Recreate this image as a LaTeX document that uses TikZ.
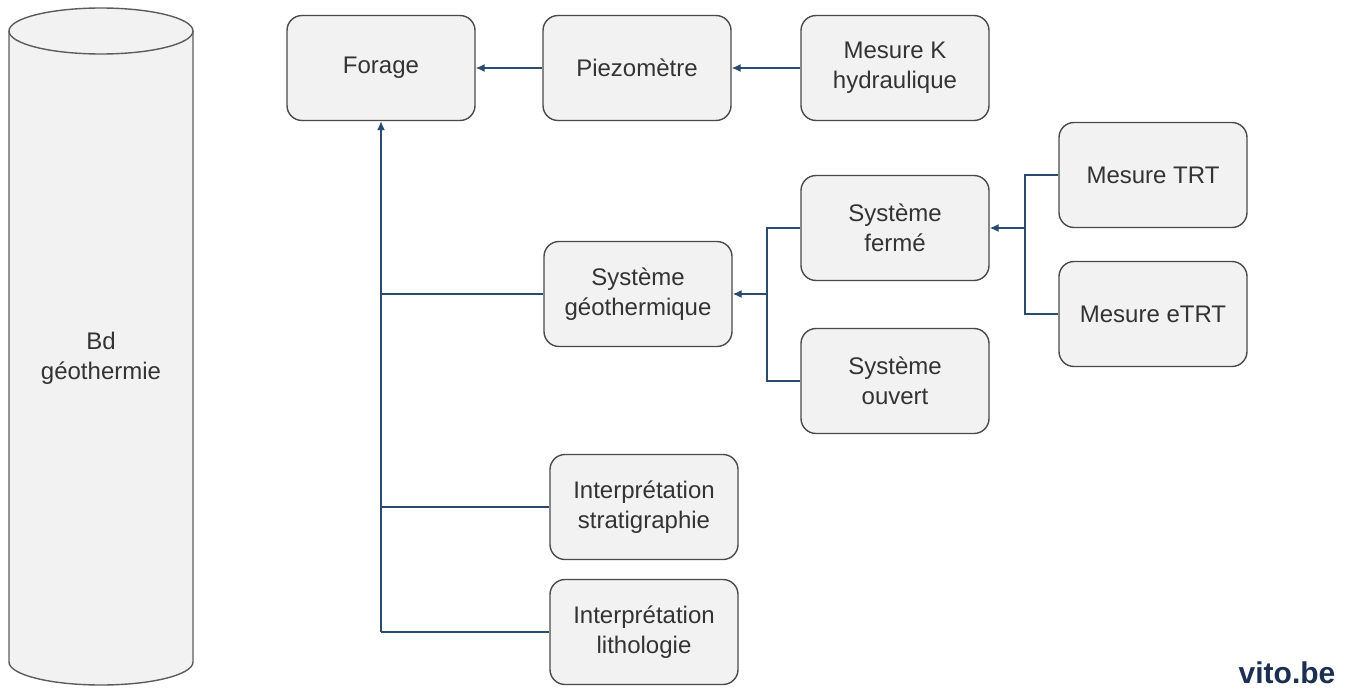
\documentclass[tikz,border=0pt]{standalone}
\usepackage{fontspec}
\setmainfont{Liberation Sans}
\usetikzlibrary{arrows.meta}
\definecolor{boxfill}{HTML}{F2F2F2}
\definecolor{boxline}{HTML}{4A4A4A}
\definecolor{txt}{HTML}{333333}
\definecolor{conn}{HTML}{2A4A6E}
\definecolor{vito}{HTML}{1B2F52}
\begin{document}
\begin{tikzpicture}[x=1pt,y=-1pt,
  box/.style={draw=boxline, fill=boxfill, line width=1.4pt, rounded corners=15pt,
    minimum width=188pt, minimum height=105pt, align=center, text=txt,
    font=\fontsize{24pt}{30pt}\selectfont, inner sep=0pt},
  conline/.style={draw=conn, line width=1.4pt},
  arr/.style={conline, -{Latex[length=9pt,width=8pt]}}]
\useasboundingbox (0,0) rectangle (1351,693);
% cylinder
\path[fill=boxfill, draw=boxline!90, line width=1.4pt]
  (9,31) -- (9,662) arc[start angle=180, end angle=360, x radius=92, y radius=-23]
  -- (193,31) arc[start angle=0, end angle=180, x radius=92, y radius=-23] -- cycle;
\draw[boxline!90, line width=1.4pt] (9,31) arc[start angle=180, end angle=360, x radius=92, y radius=-23];
\node[align=center, text=txt, font=\fontsize{24pt}{30pt}\selectfont] (bd) at (101,358) {Bd\\géothermie};
% boxes
\node[box] (forage) at (381,68) {Forage};
\node[box] (piezo) at (637,68) {Piezomètre};
\node[box] (mesk) at (895,68) {Mesure K\\hydraulique};
\node[box] (geo) at (638,294) {Système\\géothermique};
\node[box] (ferme) at (895,228) {Système\\fermé};
\node[box] (ouvert) at (895,381) {Système\\ouvert};
\node[box] (trt) at (1153,175) {Mesure TRT};
\node[box] (etrt) at (1153,314) {Mesure eTRT};
\node[box] (strat) at (644,507) {Interprétation\\stratigraphie};
\node[box] (litho) at (644,632) {Interprétation\\lithologie};
\node[text=vito, font=\fontsize{30pt}{30pt}\selectfont\bfseries, inner sep=0pt] (vitobe) at (1287,673) {vito.be};
% connectors
\draw[arr] (piezo.west) -- (forage.east);
\draw[arr] (mesk.west) -- (piezo.east);
\coordinate (mainbot) at (381,632);
\draw[arr] (mainbot) -- (forage.south);
\draw[conline] (mainbot) -- (litho.west);
\draw[conline] (strat.west -| mainbot) -- (strat.west);
\draw[conline] (geo.west -| mainbot) -- (geo.west);
\coordinate (bra) at (767,294);
\draw[conline] (ferme.west) -- (ferme.west -| bra) -- (ouvert.west -| bra) -- (ouvert.west);
\draw[arr] (bra) -- (geo.east);
\coordinate (brb) at (1025,228);
\draw[conline] (trt.west) -- (trt.west -| brb) -- (etrt.west -| brb) -- (etrt.west);
\draw[arr] (brb) -- (ferme.east);
\end{tikzpicture}
\end{document}
